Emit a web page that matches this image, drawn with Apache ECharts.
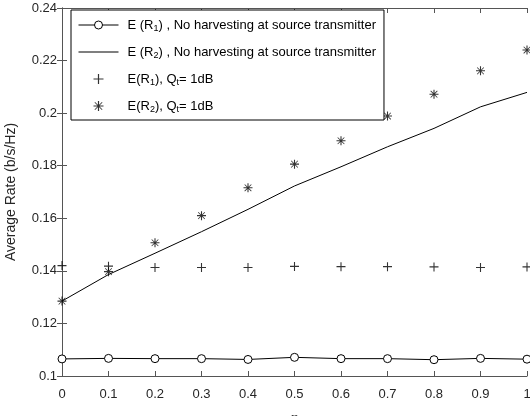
<!DOCTYPE html>
<html>
<head>
<meta charset="utf-8">
<script src="https://cdn.jsdelivr.net/npm/echarts@6/dist/echarts.min.js"></script>
<style>
  html, body { margin: 0; padding: 0; background: #fff; }
  #chart { width: 530px; height: 416px; }
</style>
</head>
<body>
<div id="chart"></div>
<script>
// eta values on the x axis
var etaValues = [0, 0.1, 0.2, 0.3, 0.4, 0.5, 0.6, 0.7, 0.8, 0.9, 1];
// E(R1), no harvesting at source (circles + line)
var r1NoHarvest = [0.1065, 0.1067, 0.1066, 0.1066, 0.1063, 0.1071, 0.1066, 0.1066, 0.1062, 0.1067, 0.1064];
// E(R2), no harvesting at source (line only)
var r2NoHarvest = [0.1285, 0.1386, 0.1467, 0.1549, 0.1634, 0.1723, 0.1796, 0.1872, 0.1942, 0.2024, 0.2079];
// E(R1), Qt = 1dB (plus)
var r1Qt = [0.1420, 0.1418, 0.1413, 0.1413, 0.1413, 0.1417, 0.1416, 0.1416, 0.1415, 0.1413, 0.1415];
// E(R2), Qt = 1dB (asterisk)
var r2Qt = [0.1285, 0.1397, 0.1507, 0.1610, 0.1716, 0.1806, 0.1895, 0.1989, 0.2072, 0.2161, 0.2240];

var legendLabels = {
  r1nh: 'E (R{s|1}) , No harvesting at source transmitter',
  r2nh: 'E (R{s|2}) , No harvesting at source transmitter',
  r1qt: 'E(R{s|1}), Q{s|t}= 1dB',
  r2qt: 'E(R{s|2}), Q{s|t}= 1dB'
};

function pairs(ys) {
  var out = [];
  for (var i = 0; i < etaValues.length; i++) out.push([etaValues[i], ys[i]]);
  return out;
}

var plusPath = 'path://M4.4,0 h1.2 v10 h-1.2 z M0,4.4 h10 v1.2 h-10 z';
var starPath = 'path://M4.4,0 h1.2 v10 h-1.2 z M0,4.4 h10 v1.2 h-10 z M1.6,1 L9,8.4 L8.4,9 L1,1.6 z M8.4,1 L9,1.6 L1.6,9 L1,8.4 z';
var linePath = 'path://M0,0 h40 v1 h-40 z';

var axisCol = '#555';
var textCol = '#262626';

var chart = echarts.init(document.getElementById('chart'));
chart.setOption({
  animation: false,
  backgroundColor: '#fff',
  grid: { left: 62, right: 3, top: 8, bottom: 40, outerBoundsMode: 'none', containLabel: false },
  legend: {
    left: 71, top: 10,
    orient: 'vertical',
    data: [
      { name: 'r1nh' },
      { name: 'r2nh', icon: linePath },
      { name: 'r1qt' },
      { name: 'r2qt' }
    ],
    itemWidth: 40, itemHeight: 10, itemGap: 11,
    padding: [7, 8, 6, 7],
    backgroundColor: '#fff',
    borderColor: '#000', borderWidth: 1,
    itemStyle: { borderWidth: 1 },
    lineStyle: { width: 1 },
    formatter: function (name) { return legendLabels[name]; },
    textStyle: {
      fontFamily: 'Liberation Sans', fontSize: 13, color: '#000', lineHeight: 16,
      padding: [0, 0, 0, 4],
      rich: { s: { fontFamily: 'Liberation Sans', fontSize: 9, lineHeight: 16, padding: [7, 0, 0, 0] } }
    }
  },
  xAxis: [{
    type: 'value', min: 0, max: 1, interval: 0.1,
    name: 'η', nameLocation: 'middle', nameGap: 35,
    nameTextStyle: { fontFamily: 'Liberation Serif', fontStyle: 'italic', fontSize: 15, color: textCol },
    axisLine: { lineStyle: { color: axisCol, width: 1 } },
    axisTick: { inside: true, length: 5, lineStyle: { color: axisCol } },
    axisLabel: { color: textCol, fontFamily: 'Liberation Sans', fontSize: 13, margin: 12,
      formatter: function (v) { return String(parseFloat(v.toFixed(2))); } },
    splitLine: { show: false }
  }, {
    type: 'value', min: 0, max: 1, interval: 0.1, position: 'top',
    axisLine: { lineStyle: { color: axisCol, width: 1 } },
    axisTick: { inside: true, length: 5, lineStyle: { color: axisCol } },
    axisLabel: { show: false },
    splitLine: { show: false }
  }],
  yAxis: [{
    type: 'value', min: 0.1, max: 0.24, interval: 0.02,
    name: 'Average Rate (b/s/Hz)', nameLocation: 'middle', nameGap: 44,
    nameTextStyle: { fontFamily: 'Liberation Sans', fontSize: 14, color: textCol },
    axisLine: { show: true, lineStyle: { color: axisCol, width: 1 } },
    axisTick: { show: true, inside: true, length: 5, lineStyle: { color: axisCol } },
    axisLabel: { color: textCol, fontFamily: 'Liberation Sans', fontSize: 13, margin: 5,
      formatter: function (v) { return String(parseFloat(v.toFixed(2))); } },
    splitLine: { show: false }
  }, {
    type: 'value', min: 0.1, max: 0.24, interval: 0.02, position: 'right',
    axisLine: { show: true, lineStyle: { color: axisCol, width: 1 } },
    axisTick: { show: true, inside: true, length: 5, lineStyle: { color: axisCol } },
    axisLabel: { show: false },
    splitLine: { show: false }
  }],
  series: [{
    name: 'r1nh', type: 'line', data: pairs(r1NoHarvest),
    symbol: 'circle', symbolSize: 8,
    itemStyle: { color: '#fff', borderColor: '#000', borderWidth: 1 },
    lineStyle: { color: '#000', width: 1 }
  }, {
    name: 'r2nh', type: 'line', data: pairs(r2NoHarvest),
    symbol: 'none',
    itemStyle: { color: '#000' },
    lineStyle: { color: '#000', width: 1 }
  }, {
    name: 'r1qt', type: 'scatter', data: pairs(r1Qt),
    symbol: plusPath, symbolSize: 9, clip: false,
    itemStyle: { color: '#000' }
  }, {
    name: 'r2qt', type: 'scatter', data: pairs(r2Qt),
    symbol: starPath, symbolSize: 9, clip: false,
    itemStyle: { color: '#000' }
  }]
});
</script>
</body>
</html>
